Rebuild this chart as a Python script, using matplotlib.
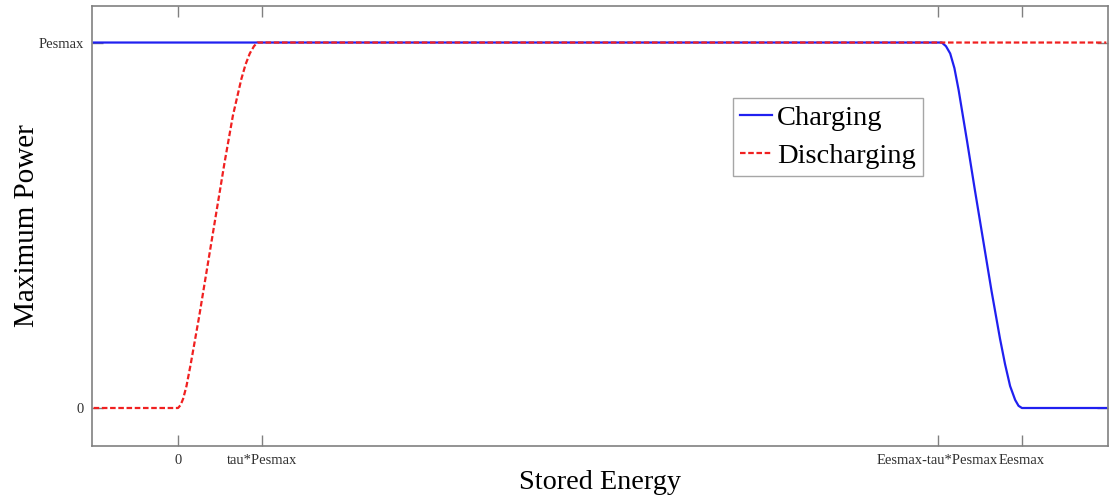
"""
Maximum charging / discharging power versus stored energy.
"""

import matplotlib.pyplot as plt

# Energy axis in units of tau*Pesmax, power in units of Pesmax
tau_pesmax = 1.0
eesmax = 10.0
pesmax = 1.0

# Discharging curve
dis_x = [-1.0, 0.0, 0.03, 0.06, 0.10, 0.15, 0.25, 0.35, 0.45, 0.55, 0.65, 0.75,
         0.80, 0.85, 0.90, 0.94, 1.0, 11.0]
dis_y = [0.0, 0.0, 0.008, 0.025, 0.06, 0.12, 0.25, 0.39, 0.53, 0.67, 0.80, 0.90,
         0.94, 0.97, 0.99, 1.0, 1.0, 1.0]

# Charging curve
chg_x = [-1.0, 9.0, 9.05, 9.1, 9.15, 9.2, 9.25, 9.35, 9.44, 9.54, 9.64, 9.74,
         9.80, 9.86, 9.92, 9.96, 10.0, 11.0]
chg_y = [1.0, 1.0, 1.0, 0.99, 0.97, 0.93, 0.87, 0.73, 0.60, 0.46, 0.32, 0.19,
         0.12, 0.06, 0.022, 0.006, 0.0, 0.0]

x_ticks = [0.0, tau_pesmax, eesmax - tau_pesmax, eesmax]
x_tick_labels = ["0", "tau*Pesmax", "Eesmax-tau*Pesmax", "Eesmax"]
y_ticks = [0.0, pesmax]
y_tick_labels = ["0", "Pesmax"]

plt.rcParams["font.family"] = ["Liberation Serif", "DejaVu Serif"]

fig = plt.figure(figsize=(11.12, 4.99), dpi=100)
ax = fig.add_axes([0.0827, 0.1062, 0.9137, 0.8818])

ax.plot(chg_x, chg_y, color="#2020f0", linewidth=1.6, label="Charging")
ax.plot(dis_x, dis_y, color="#f02020", linewidth=1.6, linestyle=(0, (2.5, 1.2)),
        label="Discharging")

ax.set_xlim(-1.02, 11.02)
ax.set_ylim(-0.104, 1.1)
ax.set_xticks(x_ticks)
ax.set_xticklabels(x_tick_labels)
ax.set_yticks(y_ticks)
ax.set_yticklabels(y_tick_labels)

ax.tick_params(direction="in", length=8, width=1, color="#808080",
               labelsize=10.5, labelcolor="#303030",
               top=True, right=True, pad=6)
for s in ax.spines.values():
    s.set_color("#808080")
    s.set_linewidth(1.2)

ax.set_xlabel("Stored Energy", fontsize=20.3, labelpad=2)
ax.set_ylabel("Maximum Power", fontsize=21, labelpad=-1)

leg = ax.legend(loc="upper left", bbox_to_anchor=(0.631, 0.791), borderaxespad=0,
                fontsize=20.5, frameon=True, fancybox=False, handlelength=1.1,
                handletextpad=0.2, borderpad=0.25, labelspacing=0.42)
leg.get_frame().set_edgecolor("#909090")
leg.get_frame().set_linewidth(1.0)

plt.savefig("out.png", dpi=100)
